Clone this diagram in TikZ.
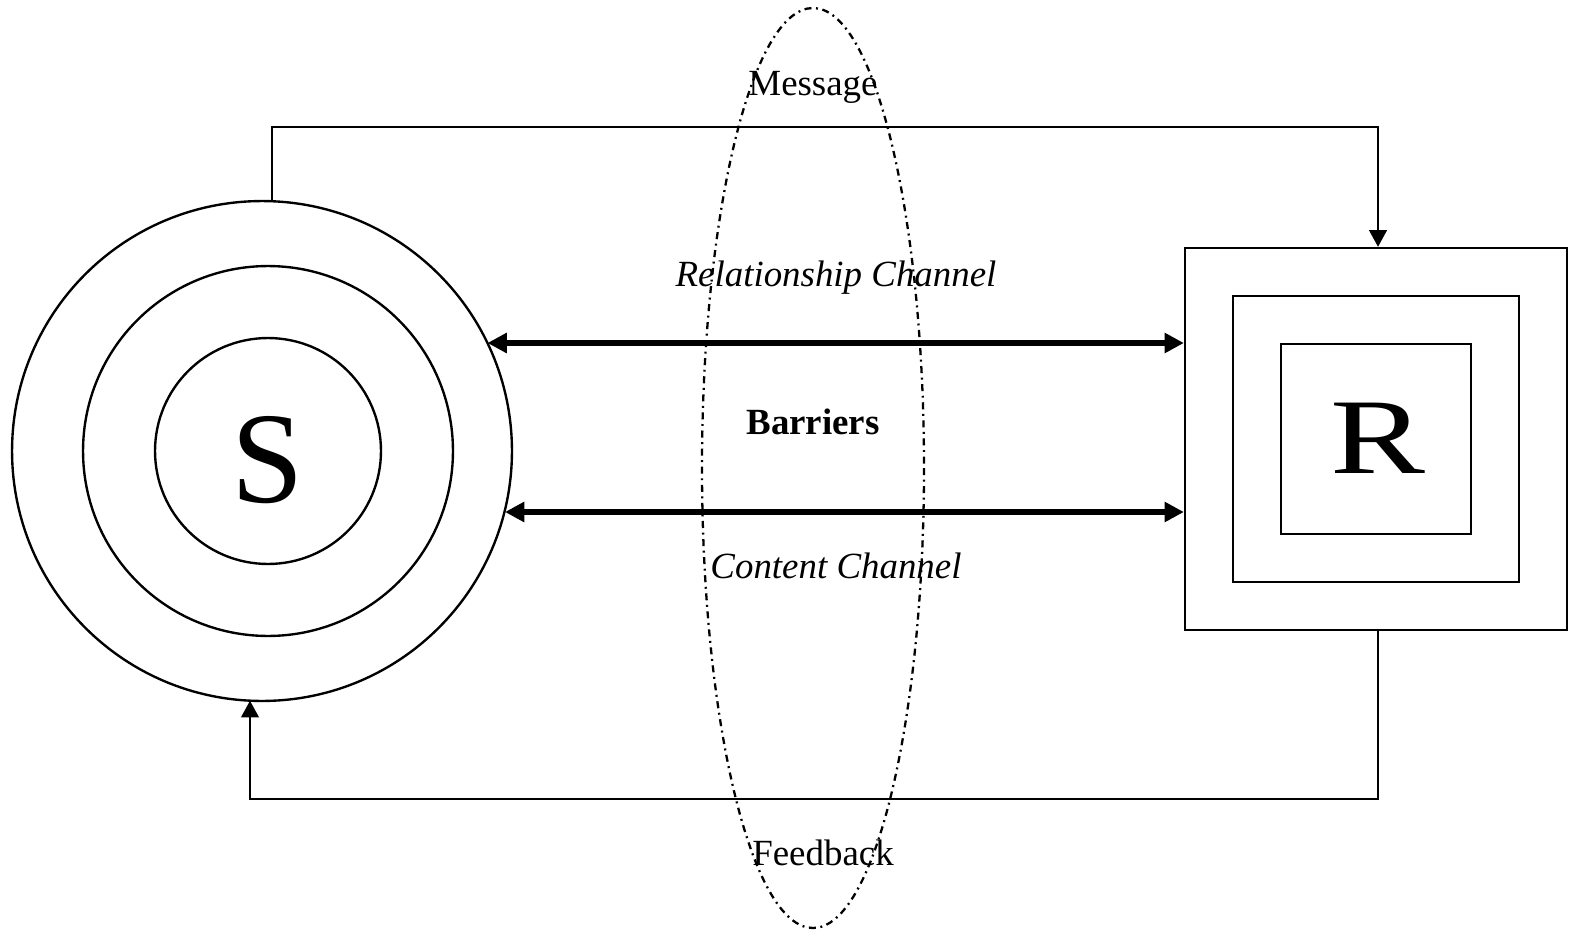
\documentclass[tikz,border=0pt]{standalone}
\usepackage{fontspec}
\setmainfont{Liberation Serif}
\usetikzlibrary{arrows.meta}
\begin{document}
\begin{tikzpicture}[x=0.02cm,y=-0.02cm,
  thickarrow/.style={line width=3.6pt,{Triangle[length=11pt,width=11pt]}-{Triangle[length=11pt,width=11pt]}},
  fbarrow/.style={line width=1.35pt,-{Triangle[length=9.5pt,width=10pt]}},
  lbl/.style={font=\fontsize{21}{24}\selectfont, inner sep=0pt},
  ring/.style={circle, draw, line width=1.35pt, inner sep=0pt},
  sq/.style={rectangle, draw, line width=1.35pt, inner sep=0pt},
  barrier/.style={line width=1.3pt, dash pattern=on 4pt off 2.6pt on 1.1pt off 2.6pt}]
\useasboundingbox (0,0) rectangle (1571,936);
% sender circles
\node[ring, minimum size=10cm] (Sout) at (262,451) {};
\node[ring, minimum size=7.4cm] (Smid) at (268,451) {};
\node[ring, minimum size=4.52cm] (Sin) at (268,451) {};
\node[font=\fontsize{74}{80}\selectfont, inner sep=0pt, anchor=base] (S) at (268,502) {S};
% receiver squares
\node[sq, minimum size=7.64cm] (Rout) at (1376,439) {};
\node[sq, minimum size=5.72cm] (Rmid) at (1376,439) {};
\node[sq, minimum size=3.8cm] (Rin) at (1376,439) {};
\node[font=\fontsize{60}{70}\selectfont, inner sep=0pt, anchor=base] (R) at (1378,473) {\scalebox{1.35}[1.02]{R}};
% barriers ellipse
\draw[barrier] (813,468) ellipse [x radius=111, y radius=460];
% message
\coordinate (m0) at ([shift={(10,-249.8)}]Sout.center);
\coordinate (m1) at (272,127);
\coordinate (m2) at (1378,127);
\draw[fbarrow] (m0) -- (m0 |- m1) -- (m2) -- (m2 |- Rout.north);
% feedback
\coordinate (f0) at ([shift={(-12,249.7)}]Sout.center);
\coordinate (f1) at (1378,799);
\draw[fbarrow] (f1 |- Rout.south) -- (f1) -- (f0 |- f1) -- (f0);
% channels
\coordinate (r0) at ([shift={(225.5,-108)}]Sout.center);
\coordinate (c0) at ([shift={(243,61)}]Sout.center);
\draw[thickarrow] (r0) -- (Rout.west |- r0);
\draw[thickarrow] (c0) -- (Rout.west |- c0);
% labels
\node[lbl] (msg) at (813,87) {Message};
\node[lbl] (rel) at (836,278) {\itshape Relationship Channel};
\node[lbl] (bar) at (813,422) {\bfseries Barriers};
\node[lbl] (con) at (836,566) {\itshape Content Channel};
\node[lbl] (fb) at (823,853) {Feedback};
\end{tikzpicture}
\end{document}
